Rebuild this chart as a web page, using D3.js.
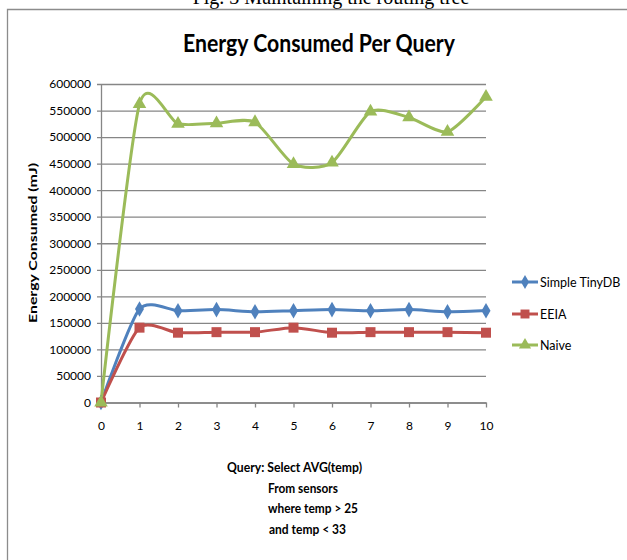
<!DOCTYPE html>
<html>
<head>
<meta charset="utf-8">
<script src="https://cdn.jsdelivr.net/npm/d3@7"></script>
<style>
  html, body { margin: 0; padding: 0; background: #fff; }
  svg { display: block; }
</style>
</head>
<body>
<svg id="chart" width="627" height="560"></svg>
<script>
// ---- data ----
const queries = [0, 1, 2, 3, 4, 5, 6, 7, 8, 9, 10];
const simpleTinyDB = [0, 176000, 173000, 175000, 171000, 173000, 175000, 173000, 175000, 171000, 173000];
const eeia = [0, 141000, 131500, 132500, 132500, 141000, 131500, 132500, 132500, 132500, 131500];
const naive = [0, 562000, 525000, 526000, 528000, 449000, 452000, 548000, 537000, 510000, 576000];
const yTicks = [0, 50000, 100000, 150000, 200000, 250000, 300000, 350000, 400000, 450000, 500000, 550000, 600000];
const seriesNames = ["Simple TinyDB", "EEIA", "Naive"];
const seriesColors = ["#4F81BD", "#C0504D", "#9BBB59"];
const seriesMarkers = ["diamond", "square", "triangle"];
const queryLines = ["Query: Select AVG(temp)", "From sensors", "where temp > 25", "and temp < 33"];

const series = [simpleTinyDB, eeia, naive].map((vals, i) => ({
  name: seriesNames[i], color: seriesColors[i], marker: seriesMarkers[i],
  points: queries.map((q, j) => ({ x: q, y: vals[j] }))
}));

const svg = d3.select("#chart");
const font = "Lato, 'Open Sans', sans-serif";

// figure caption (partly above the page, as in the source) and chart frame
svg.append("text").attr("x", 331).attr("y", 4).attr("text-anchor", "middle")
  .attr("font-family", "'Liberation Serif', 'Times New Roman', serif").attr("font-size", 20)
  .attr("fill", "#000").text("Fig. 3 Maintaining the routing tree");
svg.append("path").attr("d", "M7.5,560 V9.5 H627").attr("fill", "none")
  .attr("stroke", "#8c8c8c").attr("stroke-width", 1.3);

// scales
const x = d3.scaleLinear().domain([0, 10]).range([101, 486]);
const y = d3.scaleLinear().domain([0, 600000]).range([402.5, 84]);

// title
svg.append("text").attr("x", 319).attr("y", 52).attr("text-anchor", "middle")
  .attr("font-family", font).attr("font-weight", "bold").attr("font-size", 24)
  .attr("textLength", 272).attr("lengthAdjust", "spacingAndGlyphs")
  .text("Energy Consumed Per Query");

// gridlines + y axis
const yAxis = d3.axisLeft(y).tickValues(yTicks).tickSize(-(486 - 101)).tickSizeOuter(0).tickPadding(7)
  .tickFormat(d3.format("d"));
const gy = svg.append("g").attr("transform", `translate(${x(0)},0)`).call(yAxis);
gy.select(".domain").attr("stroke", "#868686").attr("stroke-width", 1.3);
gy.selectAll(".tick line").attr("stroke", "#868686").attr("stroke-width", 1.3).attr("x1", -4);
gy.selectAll(".tick text").attr("font-family", font).attr("font-size", 12).attr("fill", "#000")
  .attr("x", -10);

// x axis
const xAxis = d3.axisBottom(x).tickValues(queries).tickSize(5).tickSizeOuter(0).tickPadding(14)
  .tickFormat(d3.format("d"));
const gx = svg.append("g").attr("transform", `translate(0,${y(0)})`).call(xAxis);
gx.select(".domain").attr("stroke", "#868686").attr("stroke-width", 1.3);
gx.selectAll(".tick line").attr("stroke", "#868686").attr("stroke-width", 1.3);
gx.selectAll(".tick text").attr("font-family", font).attr("font-size", 12).attr("fill", "#000");

// y axis title
svg.append("text").attr("transform", "translate(37,243) rotate(-90)").attr("text-anchor", "middle")
  .attr("font-family", font).attr("font-weight", "bold").attr("font-size", 12)
  .attr("textLength", 160).attr("lengthAdjust", "spacingAndGlyphs")
  .text("Energy Consumed (mJ)");

// x axis title (query)
const qx = [227, 268, 268, 269];
const qLen = [135, 70, 90, 77];
queryLines.forEach((t, i) => {
  svg.append("text").attr("x", qx[i]).attr("y", 472 + i * 20.5)
    .attr("font-family", font).attr("font-weight", "bold").attr("font-size", 13)
    .attr("textLength", qLen[i]).attr("lengthAdjust", "spacingAndGlyphs")
    .attr("fill", "#000").text(t);
});

// lines
const line = d3.line().x(d => x(d.x)).y(d => y(d.y)).curve(d3.curveCardinal.tension(0.3));
const symbolFor = { diamond: d3.symbolDiamond, square: d3.symbolSquare, triangle: d3.symbolTriangle };
const sizeFor = { diamond: 70, square: 100, triangle: 80 };

series.forEach(s => {
  svg.append("path").datum(s.points).attr("d", line).attr("fill", "none")
    .attr("stroke", s.color).attr("stroke-width", 3).attr("stroke-linejoin", "round");
});
series.forEach(s => {
  svg.append("g").selectAll("path").data(s.points).join("path")
    .attr("transform", d => `translate(${x(d.x)},${y(d.y)})`)
    .attr("d", d3.symbol().type(symbolFor[s.marker]).size(sizeFor[s.marker]))
    .attr("fill", s.color);
});

// legend
const legendY = [282, 314, 345];
series.forEach((s, i) => {
  const g = svg.append("g").attr("transform", `translate(525,${legendY[i]})`);
  g.append("line").attr("x1", -13).attr("x2", 13).attr("stroke", s.color).attr("stroke-width", 3);
  g.append("path").attr("d", d3.symbol().type(symbolFor[s.marker]).size(sizeFor[s.marker] * 0.8)())
    .attr("fill", s.color);
  g.append("text").attr("x", 15).attr("y", 4.5).attr("font-family", font).attr("font-size", 12.5)
    .attr("fill", "#000").text(s.name);
});
</script>
</body>
</html>
